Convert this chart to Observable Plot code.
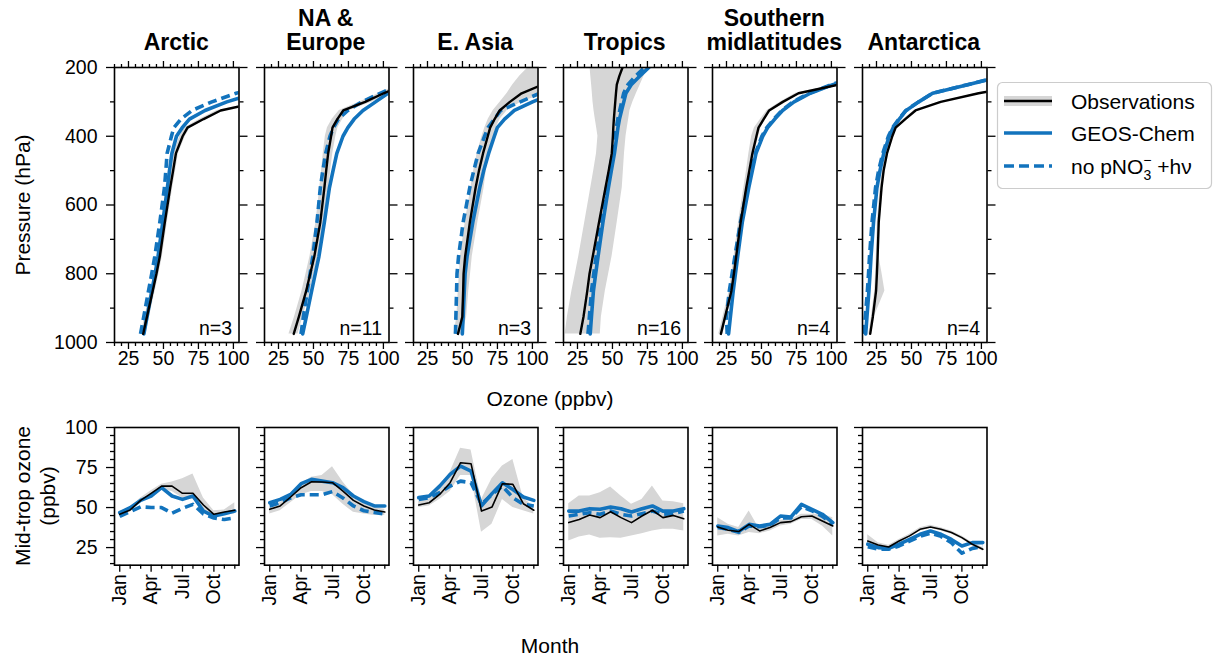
<!DOCTYPE html>
<html><head><meta charset="utf-8">
<script src="https://cdn.jsdelivr.net/npm/d3@7"></script>
<script src="https://cdn.jsdelivr.net/npm/@observablehq/plot@0.6"></script>
<style>
body{margin:0;background:#fff;}
#fig{position:relative;width:1221px;height:659px;font-family:"Liberation Sans",Arial,Helvetica,sans-serif;color:#000;overflow:hidden;background:#fff}
.title{position:absolute;top:0;height:54px;width:180px;display:flex;flex-direction:column;justify-content:flex-end;align-items:center;font-weight:bold;font-size:23px;line-height:24px;text-align:center;white-space:nowrap}
.lab{position:absolute;font-size:21px;line-height:1;white-space:nowrap;transform:translate(-50%,-50%)}
.lab.rot{transform:translate(-50%,-50%) rotate(-90deg)}
</style></head><body><div id="fig"></div>
<script>
// ---------------- data ----------------
const regions = ["Arctic", "NA &\nEurope", "E. Asia", "Tropics", "Southern\nmidlatitudes", "Antarctica"];
const nProfiles = [3, 11, 3, 16, 4, 4];

const pressure = [975, 925, 850, 800, 750, 650, 550, 500, 450, 400, 375, 350, 325, 300, 275, 250, 225, 200];
const pressureTicks = [200, 400, 600, 800, 1000];
const pressureMinor = [300, 500, 700, 900];
const ozoneTicks = [25, 50, 75, 100];
const ozoneMinor = [15, 20, 30, 35, 40, 45, 55, 60, 65, 70, 80, 85, 90, 95];

const profObs = [
  [35.5, 38.2, 42.3, 45.0, 47.4, 51.0, 54.8, 56.9, 58.9, 63.7, 67.2, 78.7, 90.9, 120, 150, 180, 210, 240],
  [35.9, 39.6, 44.8, 47.7, 50.6, 54.9, 57.8, 59.1, 60.5, 62.6, 63.6, 67.1, 71.3, 87.0, 100.2, 115, 135, 160],
  [46.8, 49.9, 50.5, 50.8, 51.9, 55.3, 59.4, 61.8, 64.7, 68.1, 69.8, 73.0, 76.6, 83.9, 92.3, 107, 120, 135],
  [27.0, 29.3, 32.0, 33.6, 35.9, 40.4, 45.0, 47.3, 49.5, 50.3, 50.6, 51.0, 51.5, 52.0, 52.5, 53.1, 54.9, 57.2],
  [21.0, 24.0, 28.5, 30.3, 31.9, 35.1, 39.1, 41.3, 43.5, 46.4, 47.9, 51.6, 55.5, 65.3, 76.5, 105, 130, 155],
  [20.5, 22.4, 24.7, 25.3, 25.8, 26.6, 28.6, 30.1, 32.5, 36.3, 38.7, 45.6, 52.9, 70.9, 98, 130, 160, 190]
];
const profObsLo = [
  [34.0, 36.7, 40.8, 43.5, 45.9, 49.5, 53.3, 55.4, 57.4, 61.7, 65.2, 76.2, 88.4, 117, 146, 176, 206, 236],
  [32.5, 36.5, 41.8, 44.7, 47.5, 51.8, 54.5, 55.8, 57.0, 58.5, 60.0, 63.5, 68.5, 83, 97, 111, 130, 155],
  [44.0, 46.0, 47.0, 47.8, 48.5, 52.0, 56.0, 58.0, 60.5, 64.0, 66.0, 68.5, 72.0, 77, 82, 86, 91, 97],
  [16.2, 17.8, 21.0, 23.5, 25.9, 30.2, 34.5, 36.6, 38.6, 39.6, 38.7, 37.7, 36.8, 36.1, 35.6, 35.1, 34.5, 34.0],
  [19.5, 22.5, 27.0, 28.8, 30.4, 33.6, 37.4, 39.3, 41.0, 43.0, 45.0, 49.5, 54.0, 63.5, 74.5, 102, 127, 152],
  [19.5, 21.4, 23.7, 24.3, 24.8, 25.6, 27.6, 29.1, 31.5, 35.3, 37.7, 44.6, 51.9, 69.9, 97, 128, 158, 188]
];
const profObsHi = [
  [37.3, 40.0, 44.1, 46.8, 49.2, 52.8, 56.6, 58.7, 60.7, 65.7, 69.2, 80.7, 93.0, 123, 154, 184, 214, 244],
  [39.0, 42.5, 47.8, 50.7, 53.6, 58.0, 61.0, 62.3, 63.8, 66.0, 67.5, 71.0, 76.0, 92, 106, 120, 140, 165],
  [50.0, 53.0, 54.5, 55.8, 57.0, 61.0, 65.5, 67.0, 69.0, 72.5, 74.0, 77.0, 82.0, 92, 110, 130, 150, 170],
  [41.3, 42.1, 44.9, 47.3, 49.7, 53.4, 57.0, 57.8, 58.6, 59.7, 60.6, 61.6, 62.5, 64.6, 67.2, 69.9, 72.6, 75.3],
  [22.5, 25.5, 30.0, 31.8, 33.4, 36.6, 40.6, 42.8, 45.0, 48.0, 49.5, 53.2, 57.2, 67, 78.5, 108, 133, 158],
  [21.5, 23.4, 31.0, 29.0, 26.8, 27.6, 29.6, 31.1, 33.5, 37.3, 39.7, 46.6, 53.9, 71.9, 99, 132, 162, 192]
];
const profGC = [
  [36.0, 38.3, 41.7, 44.0, 46.1, 49.5, 52.8, 54.3, 56.0, 59.3, 63.4, 68.6, 79.7, 95.3, 115, 135, 160, 190],
  [42.3, 44.9, 48.7, 51.3, 53.9, 57.8, 61.4, 64.0, 66.7, 71.1, 74.6, 79.1, 85.4, 94.4, 103.3, 115, 130, 150],
  [49.9, 50.5, 51.3, 51.9, 53.3, 57.4, 62.3, 65.2, 68.7, 72.8, 74.9, 80.1, 87.1, 100.1, 115, 130, 145, 160],
  [34.1, 35.0, 36.4, 38.0, 39.7, 43.2, 47.1, 49.2, 51.4, 53.1, 53.9, 55.0, 56.5, 58.1, 59.6, 63.4, 69.6, 76.0],
  [26.5, 27.8, 29.8, 31.4, 33.0, 36.3, 40.9, 43.5, 46.1, 50.9, 54.4, 59.5, 65.1, 73.3, 84.9, 101, 120, 140],
  [17.3, 18.2, 19.6, 20.4, 21.1, 22.9, 25.3, 27.5, 30.2, 34.1, 36.9, 41.3, 46.2, 55.2, 65.1, 90.2, 115, 135]
];
const profNoP = [
  [33.6, 35.9, 39.3, 41.6, 43.8, 47.4, 50.7, 51.7, 52.6, 55.7, 57.4, 62.5, 70.4, 84.6, 101.9, 125, 150, 180],
  [41.1, 42.8, 45.6, 47.6, 49.5, 52.5, 54.9, 56.7, 58.7, 61.8, 64.4, 67.8, 74.6, 84.5, 97.6, 112, 125, 140],
  [45.0, 45.3, 45.8, 46.1, 47.2, 50.5, 55.2, 58.1, 61.2, 65.8, 68.3, 72.8, 77.3, 91.3, 105, 120, 135, 150],
  [32.5, 33.5, 35.0, 36.6, 38.3, 41.8, 45.8, 48.0, 50.2, 52.0, 52.8, 53.8, 55.2, 56.6, 58.0, 61.0, 66.5, 73.0],
  [25.5, 25.0, 27.0, 29.0, 31.0, 35.0, 40.0, 42.8, 45.6, 50.3, 53.8, 58.8, 64.5, 72.5, 84.0, 100, 118, 138],
  [16.0, 17.0, 18.5, 19.3, 20.0, 21.8, 24.3, 26.5, 29.5, 33.5, 36.5, 41.0, 46.0, 55.0, 65.0, 90.0, 115, 135]
];

const months = [1, 2, 3, 4, 5, 6, 7, 8, 9, 10, 11, 12];
const monthTicks = [1, 4, 7, 10];
const monthTickLabels = ["Jan", "Apr", "Jul", "Oct"];
const monthMinor = [2, 3, 5, 6, 8, 9, 11, 12];
const midTicks = [25, 50, 75, 100];
const midMinor = [15, 20, 30, 35, 40, 45, 55, 60, 65, 70, 80, 85, 90, 95];

const seasObs = [
  [45.8, 48.5, 54.5, 58.9, 63.4, 63.4, 58.9, 58.9, 51.6, 45.8, 47.2, 48.3],
  [48.9, 51.0, 56.6, 62.4, 66.1, 66.0, 65.5, 60.3, 54.5, 51.0, 48.5, 47.2],
  [51.6, 53.0, 58.2, 65.5, 78.0, 77.4, 47.8, 50.3, 64.9, 64.5, 52.4, 48.3],
  [40.6, 42.6, 45.3, 43.7, 47.4, 43.7, 40.6, 44.7, 48.3, 43.7, 45.1, 43.0],
  [37.9, 35.8, 35.0, 39.5, 35.4, 37.5, 40.6, 41.2, 44.3, 44.7, 41.6, 38.5],
  [29.1, 26.6, 25.4, 29.1, 32.3, 36.4, 37.9, 36.4, 34.4, 31.2, 27.1, 23.9]
];
const seasObsLo = [
  [44.0, 47.0, 53.0, 57.5, 61.5, 60.0, 56.0, 55.0, 48.5, 44.5, 45.5, 46.0],
  [46.0, 48.0, 53.0, 58.0, 60.0, 60.0, 58.0, 52.0, 47.0, 46.0, 45.0, 45.0],
  [50.0, 51.0, 55.0, 60.0, 70.0, 70.0, 34.5, 39.5, 55.0, 50.0, 48.0, 46.0],
  [29.1, 31.6, 32.9, 30.8, 31.2, 30.8, 32.3, 33.7, 35.4, 36.4, 36.4, 35.4],
  [32.3, 33.3, 32.3, 34.4, 33.7, 35.4, 38.5, 39.5, 42.6, 42.6, 38.5, 32.3],
  [27.5, 25.5, 24.5, 28.0, 31.3, 35.4, 36.9, 35.4, 33.4, 30.2, 26.1, 22.9]
];
const seasObsHi = [
  [47.5, 50.0, 56.0, 60.5, 64.5, 66.0, 68.0, 71.0, 56.0, 48.0, 48.5, 53.0],
  [50.5, 53.0, 58.5, 65.0, 69.0, 70.0, 75.5, 66.0, 58.0, 53.0, 50.0, 49.0],
  [54.0, 55.5, 62.0, 72.0, 87.0, 86.0, 55.0, 68.0, 76.0, 80.0, 56.0, 50.5],
  [52.4, 57.2, 57.2, 59.3, 62.8, 57.2, 52.0, 55.1, 63.4, 54.1, 53.7, 52.4],
  [43.7, 39.5, 37.5, 47.8, 36.4, 38.5, 42.0, 42.6, 45.8, 45.8, 45.8, 43.7],
  [33.0, 28.0, 26.4, 30.1, 33.3, 37.4, 38.9, 37.4, 35.4, 32.2, 28.1, 25.0]
];
const seasGC = [
  [46.8, 49.9, 54.5, 57.2, 62.4, 57.2, 55.1, 57.2, 47.8, 44.7, 46.2, 47.8],
  [53.0, 55.1, 58.2, 64.9, 67.6, 66.5, 65.5, 62.4, 57.2, 53.7, 51.0, 51.0],
  [56.2, 57.2, 63.4, 70.7, 75.9, 72.8, 51.0, 58.7, 65.5, 61.3, 56.6, 54.5],
  [47.8, 47.8, 49.3, 48.9, 50.3, 49.3, 47.2, 49.3, 51.0, 47.8, 47.8, 49.3],
  [38.5, 37.5, 35.0, 39.5, 38.5, 39.5, 44.7, 44.1, 52.0, 48.9, 45.8, 40.6],
  [27.1, 25.0, 24.6, 27.1, 30.1, 33.3, 35.4, 33.3, 30.1, 26.0, 28.1, 28.1]
];
const seasNoP = [
  [44.5, 47.5, 50.5, 50.0, 50.0, 46.5, 49.5, 52.0, 46.0, 43.5, 42.5, 43.5],
  [51.0, 53.0, 56.0, 58.0, 58.0, 58.0, 60.0, 56.0, 51.0, 48.0, 47.0, 46.0],
  [55.1, 56.2, 59.3, 63.4, 66.5, 65.5, 52.0, 58.2, 63.4, 56.2, 52.0, 51.0],
  [44.7, 45.8, 46.8, 45.8, 47.8, 45.8, 44.7, 46.2, 47.8, 45.8, 46.2, 47.8],
  [37.5, 36.5, 34.5, 38.5, 38.0, 39.0, 43.5, 43.5, 50.5, 48.0, 44.5, 39.5],
  [25.5, 24.0, 24.0, 26.0, 29.0, 32.0, 34.0, 32.0, 28.0, 21.5, 24.5, 25.5]
];

const legendLabels = ["Observations", "GEOS-Chem"];

// ---------------- layout / style ----------------
const FONT = "'Liberation Sans', Arial, Helvetica, sans-serif";
const BLUE = "#1273bd";
const GRAY = "#d6d6d6";
const FW = 124.5;
const panelLeft = k => 114 + 149.5 * k;
const fig = d3.select("#fig");

function place(node, left, top) {
  fig.append(() => node).style("position", "absolute").style("left", left + "px").style("top", top + "px");
}
const svgStyle = {background: "transparent", overflow: "visible", fontSize: "19.5px", fontFamily: FONT, color: "#000"};
const fmt = d => String(d);

function topPanel(k) {
  const rows = pressure.map((p, i) => ({p, obs: profObs[k][i], lo: profObsLo[k][i], hi: profObsHi[k][i], gc: profGC[k][i], nop: profNoP[k][i]}));
  const ml = 70, mr = 14, mt = 14, mb = 40, fh = 275;
  const ax = {label: null, strokeWidth: 1.3};
  const svg = Plot.plot({
    width: ml + FW + mr, height: mt + fh + mb,
    marginLeft: ml, marginRight: mr, marginTop: mt, marginBottom: mb,
    style: svgStyle,
    x: {domain: [15, 104]},
    y: {domain: [200, 1000], reverse: true},
    marks: [
      Plot.areaX(rows, {y: "p", x1: "lo", x2: "hi", fill: GRAY, clip: true}),
      Plot.lineX(rows, {x: "gc", y: "p", stroke: BLUE, strokeWidth: 3.6, clip: true}),
      Plot.lineX(rows, {x: "nop", y: "p", stroke: BLUE, strokeWidth: 3.6, strokeDasharray: "9,5", strokeLinecap: "butt", clip: true}),
      Plot.lineX(rows, {x: "obs", y: "p", stroke: "#000", strokeWidth: 2.4, clip: true}),
      Plot.frame({stroke: "#000", strokeWidth: 1.6}),
      Plot.axisY({...ax, anchor: "left", ticks: pressureTicks, tickSize: 8, tickPadding: 9, tickFormat: fmt, fill: k === 0 ? "currentColor" : "none"}),
      Plot.axisY({...ax, anchor: "left", ticks: pressureMinor, tickSize: 4, fill: "none"}),
      Plot.axisY({...ax, anchor: "right", ticks: pressureTicks, tickSize: 8, fill: "none"}),
      Plot.axisY({...ax, anchor: "right", ticks: pressureMinor, tickSize: 4, fill: "none"}),
      Plot.axisX({...ax, anchor: "bottom", ticks: ozoneTicks, tickSize: 7, tickPadding: 2, tickFormat: fmt}),
      Plot.axisX({...ax, anchor: "bottom", ticks: ozoneMinor, tickSize: 4, fill: "none"}),
      Plot.axisX({...ax, anchor: "top", ticks: ozoneTicks, tickSize: 7, fill: "none"}),
      Plot.axisX({...ax, anchor: "top", ticks: ozoneMinor, tickSize: 4, fill: "none"}),
      Plot.text([`n=${nProfiles[k]}`], {text: d => d, frameAnchor: "bottom-right", textAnchor: "end", lineAnchor: "bottom", dx: -7, dy: -8, fontSize: 19.5})
    ]
  });
  place(svg, panelLeft(k) - ml, 67 - mt);
}

function bottomPanel(k) {
  const rows = months.map((m, i) => ({m, obs: seasObs[k][i], lo: seasObsLo[k][i], hi: seasObsHi[k][i], gc: seasGC[k][i], nop: seasNoP[k][i]}));
  const ml = 70, mr = 10, mt = 10, mb = 60, fh = 137.7;
  const ax = {label: null, strokeWidth: 1.3};
  const svg = Plot.plot({
    width: ml + FW + mr, height: mt + fh + mb,
    marginLeft: ml, marginRight: mr, marginTop: mt, marginBottom: mb,
    style: svgStyle,
    x: {domain: [0.5, 12.4]},
    y: {domain: [14, 100]},
    marks: [
      Plot.areaY(rows, {x: "m", y1: "lo", y2: "hi", fill: GRAY, clip: true}),
      Plot.lineY(rows, {x: "m", y: "gc", stroke: BLUE, strokeWidth: 3.6, clip: true}),
      Plot.lineY(rows, {x: "m", y: "nop", stroke: BLUE, strokeWidth: 3.6, strokeDasharray: "9,5", strokeLinecap: "butt", clip: true}),
      Plot.lineY(rows, {x: "m", y: "obs", stroke: "#000", strokeWidth: 1.6, clip: true}),
      Plot.frame({stroke: "#000", strokeWidth: 1.6}),
      Plot.axisY({...ax, anchor: "left", ticks: midTicks, tickSize: 8, tickPadding: 9, tickFormat: fmt, fill: k === 0 ? "currentColor" : "none"}),
      Plot.axisY({...ax, anchor: "left", ticks: midMinor, tickSize: 4, fill: "none"}),
      Plot.axisX({...ax, anchor: "bottom", ticks: monthTicks, tickSize: 7, tickPadding: 2, tickRotate: -90, tickFormat: d => monthTickLabels[monthTicks.indexOf(d)]}),
      Plot.axisX({...ax, anchor: "bottom", ticks: monthMinor, tickSize: 4, fill: "none"})
    ]
  });
  place(svg, panelLeft(k) - ml, 427.3 - mt);
}

for (let k = 0; k < regions.length; k++) { topPanel(k); bottomPanel(k); }

// titles
regions.forEach((r, k) => {
  const cx = panelLeft(k) + FW / 2;
  const d = fig.append("div").attr("class", "title").style("left", (cx - 90) + "px");
  r.split("\n").forEach(line => d.append("div").text(line));
});

// axis labels
function label(text, x, y, rot) {
  fig.append("div").attr("class", "lab" + (rot ? " rot" : "")).style("left", x + "px").style("top", y + "px").text(text);
}
label("Pressure (hPa)", 22, 205, true);
label("Ozone (ppbv)", 550, 398, false);
label("Mid-trop ozone", 22, 496, true);
label("(ppbv)", 47, 496, true);
label("Month", 550, 645, false);

// legend
const leg = fig.append("svg").style("position", "absolute").style("left", "995px").style("top", "80px")
  .attr("width", 220).attr("height", 112).style("font-family", FONT).style("font-size", "21px");
leg.append("rect").attr("x", 2.5).attr("y", 2.5).attr("width", 214).attr("height", 106).attr("rx", 5)
  .attr("fill", "#fff").attr("stroke", "#cccccc").attr("stroke-width", 1.2);
const rowY = [21, 53, 86];
leg.append("rect").attr("x", 9).attr("y", rowY[0] - 5).attr("width", 48).attr("height", 10).attr("fill", GRAY);
leg.append("line").attr("x1", 9).attr("x2", 57).attr("y1", rowY[0]).attr("y2", rowY[0]).attr("stroke", "#000").attr("stroke-width", 2.5);
leg.append("line").attr("x1", 9).attr("x2", 57).attr("y1", rowY[1]).attr("y2", rowY[1]).attr("stroke", BLUE).attr("stroke-width", 3.6);
leg.append("line").attr("x1", 9).attr("x2", 57).attr("y1", rowY[2]).attr("y2", rowY[2]).attr("stroke", BLUE).attr("stroke-width", 3.6).attr("stroke-dasharray", "10,5");
legendLabels.forEach((t, i) => leg.append("text").attr("x", 76).attr("y", rowY[i]).attr("dy", "0.36em").text(t));
const t3 = leg.append("text").attr("x", 76).attr("y", rowY[2]).attr("dy", "0.36em");
t3.append("tspan").text("no pNO");
t3.append("tspan").attr("font-size", "14px").attr("dy", 6).text("3");
t3.append("tspan").attr("font-size", "14px").attr("dx", -8).attr("dy", -15).text("\u2212");
t3.append("tspan").attr("dy", 9).text(" +h");
t3.append("tspan").text("\u03bd");
</script></body></html>
